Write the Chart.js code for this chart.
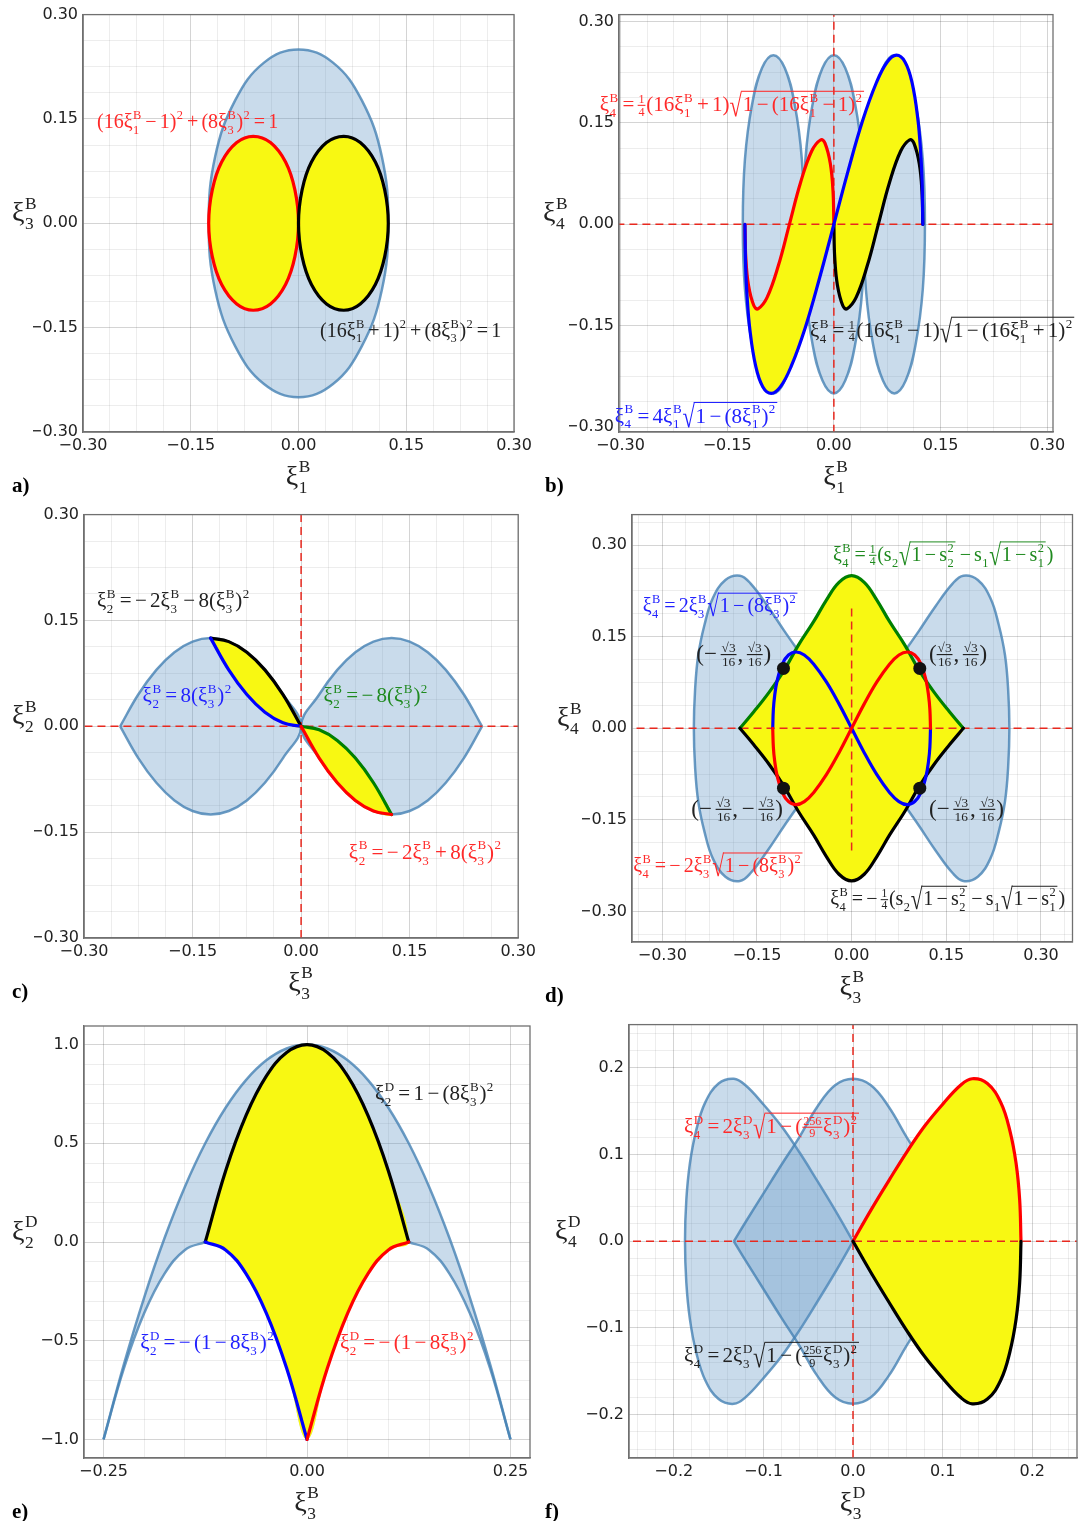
<!DOCTYPE html>
<html>
<head>
<meta charset="utf-8">
<script src="https://cdn.jsdelivr.net/npm/chart.js@4.4.1/dist/chart.umd.min.js"></script>
<style>
  html, body { margin: 0; padding: 0; background: #fff; }
  body { width: 1079px; height: 1521px; position: relative; overflow: hidden; }
  canvas { position: absolute; }
</style>
</head>
<body>
<script>
/* ---------------- tick labels ---------------- */
const ticksB = [-0.30, -0.15, 0.00, 0.15, 0.30];
const ticksEx = [-0.25, 0.00, 0.25];
const ticksEy = [-1.0, -0.5, 0.0, 0.5, 1.0];
const ticksF = [-0.2, -0.1, 0.0, 0.1, 0.2];

/* ---------------- a) xi1 vs xi3 ---------------- */
const aCloudX = [0, -0.048, -0.088, -0.116, -0.125, -0.116, -0.088, -0.048, 0, 0.048, 0.088, 0.116, 0.125, 0.116, 0.088, 0.048];
const aCloudY = [0.25, 0.231, 0.177, 0.096, 0, -0.096, -0.177, -0.231, -0.25, -0.231, -0.177, -0.096, 0, 0.096, 0.177, 0.231];
const aRedX = [-0.063, -0.086, -0.107, -0.120, -0.125, -0.120, -0.107, -0.086, -0.063, -0.039, -0.018, -0.005, 0, -0.005, -0.018, -0.039];
const aRedY = [0.125, 0.116, 0.088, 0.048, 0, -0.048, -0.088, -0.116, -0.125, -0.116, -0.088, -0.048, 0, 0.048, 0.088, 0.116];
const aBlackX = [0.063, 0.039, 0.018, 0.005, 0, 0.005, 0.018, 0.039, 0.063, 0.086, 0.107, 0.120, 0.125, 0.120, 0.107, 0.086];
const aBlackY = [0.125, 0.116, 0.088, 0.048, 0, -0.048, -0.088, -0.116, -0.125, -0.116, -0.088, -0.048, 0, 0.048, 0.088, 0.116];

/* ---------------- b) xi1 vs xi4 ---------------- */
const bLobeCx = [-0.085, 0, 0.085];
const bLobeDx = [0, -0.016, -0.030, -0.040, -0.043, -0.040, -0.030, -0.016, 0, 0.016, 0.030, 0.040, 0.043, 0.040, 0.030, 0.016];
const bLobeY = [0.25, 0.231, 0.177, 0.096, 0, -0.096, -0.177, -0.231, -0.25, -0.231, -0.177, -0.096, 0, 0.096, 0.177, 0.231];
const bBlueX = [-0.125, -0.124, -0.122, -0.118, -0.11, -0.1, -0.088, -0.075, -0.06, -0.04, -0.02, 0, 0.02, 0.04, 0.06, 0.075, 0.088, 0.1, 0.11, 0.118, 0.122, 0.124, 0.125];
const bBlueY = [0, -0.063, -0.106, -0.156, -0.209, -0.24, -0.25, -0.24, -0.21, -0.152, -0.079, 0, 0.079, 0.152, 0.21, 0.24, 0.25, 0.24, 0.209, 0.156, 0.106, 0.063, 0];
const bRedX = [-0.125, -0.1238, -0.12, -0.1125, -0.1067, -0.0938, -0.078, -0.0625, -0.047, -0.0313, -0.0183, -0.0125, -0.005, -0.0012, 0];
const bRedY = [0, -0.049, -0.09, -0.12, -0.125, -0.108, -0.061, 0, 0.061, 0.108, 0.125, 0.12, 0.09, 0.049, 0];
const bBlackX = [0, 0.0012, 0.005, 0.0125, 0.0183, 0.0313, 0.047, 0.0625, 0.078, 0.0938, 0.1067, 0.1125, 0.12, 0.1238, 0.125];
const bBlackY = [0, -0.049, -0.09, -0.12, -0.125, -0.108, -0.061, 0, 0.061, 0.108, 0.125, 0.12, 0.09, 0.049, 0];

/* ---------------- c) xi3 vs xi2 ---------------- */
const cLobeX = [-0.25, -0.225, -0.2, -0.175, -0.15, -0.125, -0.1, -0.075, -0.05, -0.025, 0];
const cLobeTop = [0, 0.045, 0.08, 0.105, 0.12, 0.125, 0.12, 0.105, 0.08, 0.045, 0];
const cLeftX = [-0.125, -0.1, -0.075, -0.05, -0.025, 0];
const cBlueY = [0.125, 0.08, 0.045, 0.02, 0.005, 0];
const cBlackY = [0.125, 0.12, 0.105, 0.08, 0.045, 0];
const cRightX = [0, 0.025, 0.05, 0.075, 0.1, 0.125];
const cGreenY = [0, -0.005, -0.02, -0.045, -0.08, -0.125];
const cRedY = [0, -0.045, -0.08, -0.105, -0.12, -0.125];

/* ---------------- d) xi3 vs xi4 ---------------- */
const dLobeX = [0, -0.027, -0.053, -0.08, -0.107, -0.133, -0.16, -0.177, -0.2, -0.22, -0.233, -0.243, -0.248, -0.25];
const dLobeY = [0, 0.04, 0.08, 0.12, 0.16, 0.2, 0.237, 0.25, 0.243, 0.213, 0.17, 0.12, 0.064, 0];
const dGreenX = [-0.177, -0.155, -0.13, -0.107, -0.085, -0.06, -0.04, -0.02, 0, 0.02, 0.04, 0.06, 0.085, 0.107, 0.13, 0.155, 0.177];
const dGreenY = [0, 0.027, 0.06, 0.095, 0.135, 0.175, 0.21, 0.239, 0.25, 0.239, 0.21, 0.175, 0.135, 0.095, 0.06, 0.027, 0];
const dBlueX = [-0.125, -0.124, -0.122, -0.118, -0.11, -0.1, -0.088, -0.075, -0.06, -0.04, -0.02, 0, 0.02, 0.04, 0.06, 0.075, 0.088, 0.1, 0.11, 0.118, 0.122, 0.124, 0.125];
const dBlueY = [0, 0.031, 0.053, 0.078, 0.105, 0.12, 0.125, 0.12, 0.105, 0.076, 0.04, 0, -0.04, -0.076, -0.105, -0.12, -0.125, -0.12, -0.105, -0.078, -0.053, -0.031, 0];
const dDotX = [-0.108, 0.108, -0.108, 0.108];
const dDotY = [0.098, 0.098, -0.098, -0.098];
const dVertDash = [-0.2, 0.2];

/* ---------------- e) xi3B vs xi2D ---------------- */
const eOuterX = [-0.25, -0.225, -0.2, -0.175, -0.15, -0.125, -0.1, -0.075, -0.05, -0.025, 0, 0.025, 0.05, 0.075, 0.1, 0.125, 0.15, 0.175, 0.2, 0.225, 0.25];
const eOuterY = [-1, -0.62, -0.28, 0.02, 0.28, 0.5, 0.68, 0.82, 0.92, 0.98, 1, 0.98, 0.92, 0.82, 0.68, 0.5, 0.28, 0.02, -0.28, -0.62, -1];
const eLowerX = [-0.25, -0.225, -0.2, -0.175, -0.15, -0.125];
const eLowerY = [-1, -0.64, -0.36, -0.16, -0.04, 0];
const eBlueX = [-0.125, -0.1, -0.075, -0.05, -0.025, 0];
const eBlueY = [0, -0.04, -0.16, -0.36, -0.64, -1];
const eRedX = [0, 0.025, 0.05, 0.075, 0.1, 0.125];
const eRedY = [-1, -0.64, -0.36, -0.16, -0.04, 0];
const eBlackX = [-0.125, -0.1, -0.075, -0.05, -0.025, 0, 0.025, 0.05, 0.075, 0.1, 0.125];
const eBlackY = [0, 0.36, 0.64, 0.84, 0.96, 1, 0.96, 0.84, 0.64, 0.36, 0];

/* ---------------- f) xi3D vs xi4D ---------------- */
const fRedX = [0, 0.02, 0.04, 0.06, 0.08, 0.1, 0.12, 0.133, 0.15, 0.165, 0.175, 0.182, 0.186, 0.1875];
const fRedY = [0, 0.036, 0.07, 0.103, 0.133, 0.158, 0.18, 0.1875, 0.182, 0.16, 0.128, 0.09, 0.048, 0];
const fMidX = [-0.133, -0.12, -0.1, -0.08, -0.06, -0.04, -0.02, 0, 0.02, 0.04, 0.06, 0.08, 0.1, 0.12, 0.133];
const fMidY = [0, 0.022, 0.055, 0.088, 0.12, 0.155, 0.18, 0.1875, 0.18, 0.155, 0.12, 0.088, 0.055, 0.022, 0];

/* ---------------- styling ---------------- */
const RED = '#ff0000', BLUE = '#0000ff', GREEN = '#008000', BLACK = '#000000';
const T_RED = '#ff2a2a', T_BLUE = '#2222ff', T_GREEN = '#1f8a1f', T_BLACK = '#222222';
const CLOUD_FILL = 'rgba(90,145,195,0.33)', CLOUD_EDGE = 'rgba(70,130,180,0.8)';
const YELLOW = 'rgb(248,248,18)';
const SPINE = '#707070', MAJOR = 'rgba(0,0,0,0.17)', MINOR = 'rgba(0,0,0,0.07)';
const SERIF = '"Liberation Serif", "DejaVu Serif", serif';

/* ---------------- helpers ---------------- */
const P = (xs, ys) => xs.map((x, i) => ({ x, y: ys[i] }));
const neg = pts => pts.map(p => ({ x: p.x, y: -p.y }));
const flipX = pts => pts.map(p => ({ x: -p.x, y: p.y }));
const closeLoop = upper => [...upper, ...neg(upper).reverse().slice(1)];
const rev = pts => pts.slice().reverse().slice(1);

const cloud = (data, extra = {}) => ({ data, fill: 'shape', backgroundColor: CLOUD_FILL, borderColor: CLOUD_EDGE, borderWidth: 2.5, tension: 0.4, ...extra });
const edge = data => ({ data, fill: false, borderColor: CLOUD_EDGE, borderWidth: 2.5, tension: 0.4 });
const patch = (data, extra = {}) => ({ data, fill: 'shape', backgroundColor: YELLOW, borderColor: 'rgba(0,0,0,0)', borderWidth: 0, tension: 0.4, ...extra });
const curve = (data, color, extra = {}) => ({ data, fill: false, borderColor: color, borderWidth: 3.2, borderCapStyle: 'round', tension: 0.4, ...extra });
const dash = data => ({ data, fill: false, borderColor: '#e8281e', borderWidth: 1.5, borderDash: [8, 5], tension: 0 });
const hLine = [{ x: -1, y: 0 }, { x: 1, y: 0 }];
const vLine = [{ x: 0, y: -1 }, { x: 0, y: 1 }];
const RING = { closed: true };

// closed outlines (ellipses) are drawn as smooth loops, like a radar line
Chart.register({
  id: 'closedLoops',
  afterDatasetUpdate(chart, args) {
    const ds = chart.data.datasets[args.index];
    if (ds && ds.closed && args.meta.dataset) {
      args.meta.dataset._loop = true;
      args.meta.dataset._fullLoop = true;
    }
  }
});

// radical sign sized to span from below the baseline up to the overline
function radical(ctx, x, y, size, draw) {
  ctx.font = `100px ${SERIF}`;
  const m = ctx.measureText('\u221A');
  const asc = m.actualBoundingBoxAscent, desc = m.actualBoundingBoxDescent;
  const fs = 100 * (1.2 * size) / (asc + desc);
  const k = fs / 100, sx = 0.72;
  const base = y - 0.98 * size + asc * k;
  const right = m.actualBoundingBoxRight * k * sx;
  if (draw) {
    ctx.save(); ctx.translate(x, base); ctx.scale(sx, 1);
    ctx.font = `${fs}px ${SERIF}`; ctx.fillText('\u221A', 0, 0); ctx.restore();
  }
  return right;
}

// tiny typesetter: _ sub, ^ sup, \r{} root, \f{}{} fraction
function mathRun(ctx, s, x, y, size, draw) {
  let i = 0, cx = x;
  const arg = () => {
    if (s[i] !== '{') return s[i++];
    let depth = 1, j = i + 1;
    while (depth > 0 && j < s.length) { if (s[j] === '{') depth++; else if (s[j] === '}') depth--; j++; }
    const a = s.slice(i + 1, j - 1); i = j; return a;
  };
  while (i < s.length) {
    const ch = s[i];
    if (ch === '\\') {
      const cmd = s[i + 1]; i += 2;
      if (cmd === 'r') {
        const body = arg();
        const rw = radical(ctx, cx, y, size, draw);
        const bw = mathRun(ctx, body, cx + rw + size * 0.04, y, size, draw);
        if (draw) ctx.fillRect(cx + rw - 1, y - 0.98 * size, bw + size * 0.14, Math.max(1, size * 0.05));
        cx += rw + bw + size * 0.14;
      } else if (cmd === 'f') {
        const a = arg(), b = arg();
        const fs = size * 0.58;
        const wa = mathRun(ctx, a, 0, 0, fs, false), wb = mathRun(ctx, b, 0, 0, fs, false);
        const w = Math.max(wa, wb) + size * 0.08;
        if (draw) {
          mathRun(ctx, a, cx + (w - wa) / 2, y - size * 0.4, fs, true);
          mathRun(ctx, b, cx + (w - wb) / 2, y + size * 0.2, fs, true);
          ctx.fillRect(cx, y - size * 0.31, w, Math.max(1, size * 0.05));
        }
        cx += w + size * 0.04;
      }
    } else if (ch === '_' || ch === '^') {
      let sub = null, sup = null;
      while (i < s.length && (s[i] === '_' || s[i] === '^')) {
        const t = s[i++]; const a = arg();
        if (t === '_') sub = a; else sup = a;
      }
      const ss = size * 0.62; let w = 0;
      if (sub !== null) w = Math.max(w, mathRun(ctx, sub, cx + size * 0.02, y + size * 0.28, ss, draw));
      if (sup !== null) w = Math.max(w, mathRun(ctx, sup, cx + size * 0.02, y - size * 0.45, ss, draw));
      cx += w + size * 0.06;
    } else if (ch === ' ') {
      cx += size * 0.16; i++;
    } else {
      ctx.font = `${size}px ${SERIF}`;
      if (draw) ctx.fillText(ch, cx, y);
      cx += ctx.measureText(ch).width; i++;
    }
  }
  return cx - x;
}

function gridValues(min, max, step) {
  const out = [];
  for (let k = Math.ceil(min / step - 1e-6); k * step <= max + 1e-9; k++) out.push(Math.round(k * step * 1e6) / 1e6);
  return out;
}

function axis(spec, isX) {
  const grid = gridValues(spec.min, spec.max, spec.step);
  const find = v => spec.labels.find(l => Math.abs(l - v) < spec.step / 10);
  return {
    type: 'linear', min: spec.min, max: spec.max,
    afterBuildTicks: s => { s.ticks = grid.map(v => ({ value: v })); },
    afterFit: s => { if (isX) s.height = 26; else s.width = 50; },
    grid: { color: c => (c.tick && find(c.tick.value) !== undefined ? MAJOR : MINOR), lineWidth: 1, drawTicks: false },
    border: { display: true, color: SPINE, width: 1.3 },
    ticks: {
      autoSkip: false, maxRotation: 0, padding: isX ? 4 : 5, color: '#222',
      font: { size: 16, family: '"DejaVu Sans", sans-serif' },
      callback: v => {
        const l = find(v);
        if (l === undefined) return '';
        return (l < 0 ? '\u2212' : '') + Math.abs(l).toFixed(spec.dec);
      }
    }
  };
}

/* ---------------- panels ---------------- */
const panels = [
  {
    box: [0, 0, 540, 500], area: [83, 12, 514, 432],
    x: { min: -0.3, max: 0.3, step: 0.0375, labels: ticksB, dec: 2 },
    y: { min: -0.3, max: 0.3, step: 0.0375, labels: ticksB, dec: 2 },
    xTitle: 'ξ_1^B', yTitle: 'ξ_3^B', yTitleX: 12, tag: 'a)', tagX: 12,
    sets: [
      cloud(P(aCloudX, aCloudY), RING),
      patch(P(aRedX, aRedY), RING), patch(P(aBlackX, aBlackY), RING),
      curve(P(aRedX, aRedY), RED, RING), curve(P(aBlackX, aBlackY), BLACK, RING)
    ],
    notes: [
      { t: '(16ξ_1^B − 1)^2 + (8ξ_3^B)^2 = 1', x: -0.2805, y: 0.137, c: T_RED, s: 20 },
      { t: '(16ξ_1^B + 1)^2 + (8ξ_3^B)^2 = 1', x: 0.03, y: -0.163, c: T_BLACK, s: 20 }
    ]
  },
  {
    box: [540, 0, 539, 500], area: [619, 5, 1053, 432],
    x: { min: -0.302, max: 0.308, step: 0.0375, labels: ticksB, dec: 2 },
    y: { min: -0.307, max: 0.31, step: 0.0375, labels: ticksB, dec: 2 },
    xTitle: 'ξ_1^B', yTitle: 'ξ_4^B', yTitleX: 543, tag: 'b)', tagX: 545,
    sets: [
      ...bLobeCx.map(cx => cloud(P(bLobeDx.map(d => cx + d), bLobeY), RING)),
      patch([...P(bRedX, bRedY), ...rev(P(bBlueX.slice(0, 12), bBlueY.slice(0, 12)))]),
      patch([...P(bBlackX, bBlackY), ...rev(P(bBlueX.slice(11), bBlueY.slice(11)))]),
      dash(hLine), dash(vLine),
      curve(P(bRedX, bRedY), RED), curve(P(bBlackX, bBlackY), BLACK), curve(P(bBlueX, bBlueY), BLUE)
    ],
    notes: [
      { t: 'ξ_4^B = \\f{1}{4}(16ξ_1^B + 1)\\r{1 − (16ξ_1^B − 1)^2}', x: -0.329, y: 0.167, c: T_RED, s: 21 },
      { t: 'ξ_4^B = \\f{1}{4}(16ξ_1^B − 1)\\r{1 − (16ξ_1^B + 1)^2}', x: -0.0336, y: -0.167, c: T_BLACK, s: 21 },
      { t: 'ξ_4^B = 4ξ_1^B\\r{1 − (8ξ_1^B)^2}', x: -0.308, y: -0.293, c: T_BLUE, s: 21 }
    ]
  },
  {
    box: [0, 500, 540, 510], area: [84, 511, 523, 938],
    x: { min: -0.3, max: 0.3, step: 0.0375, labels: ticksB, dec: 2 },
    y: { min: -0.3, max: 0.3, step: 0.0375, labels: ticksB, dec: 2 },
    xTitle: 'ξ_3^B', yTitle: 'ξ_2^B', yTitleX: 12, tag: 'c)', tagX: 12,
    sets: [
      cloud(closeLoop(P(cLobeX, cLobeTop))),
      cloud(flipX(closeLoop(P(cLobeX, cLobeTop)))),
      patch([...P(cLeftX, cBlackY), ...rev(P(cLeftX, cBlueY))]),
      patch([...P(cRightX, cGreenY), ...rev(P(cRightX, cRedY))]),
      dash(hLine), dash(vLine),
      curve(P(cLeftX, cBlackY), BLACK), curve(P(cLeftX, cBlueY), BLUE),
      curve(P(cRightX, cGreenY), GREEN), curve(P(cRightX, cRedY), RED)
    ],
    notes: [
      { t: 'ξ_2^B = − 2ξ_3^B − 8(ξ_3^B)^2', x: -0.282, y: 0.169, c: T_BLACK, s: 21 },
      { t: 'ξ_2^B = 8(ξ_3^B)^2', x: -0.219, y: 0.034, c: T_BLUE, s: 21 },
      { t: 'ξ_2^B = − 8(ξ_3^B)^2', x: 0.031, y: 0.034, c: T_GREEN, s: 21 },
      { t: 'ξ_2^B = − 2ξ_3^B + 8(ξ_3^B)^2', x: 0.066, y: -0.1876, c: T_RED, s: 21 }
    ]
  },
  {
    box: [540, 500, 539, 510], area: [632, 508, 1077, 942],
    x: { min: -0.348, max: 0.35, step: 0.0375, labels: ticksB, dec: 2 },
    y: { min: -0.35, max: 0.35, step: 0.0375, labels: ticksB, dec: 2 },
    xTitle: 'ξ_3^B', yTitle: 'ξ_4^B', yTitleX: 557, tag: 'd)', tagX: 545,
    sets: [
      cloud(closeLoop(P(dLobeX, dLobeY))),
      cloud(flipX(closeLoop(P(dLobeX, dLobeY)))),
      patch(closeLoop(P(dGreenX, dGreenY))),
      dash(hLine), dash([{ x: 0, y: dVertDash[0] }, { x: 0, y: dVertDash[1] }]),
      curve(P(dGreenX, dGreenY), GREEN), curve(neg(P(dGreenX, dGreenY)), BLACK),
      curve(P(dBlueX, dBlueY), BLUE), curve(neg(P(dBlueX, dBlueY)), RED),
      { data: P(dDotX, dDotY), showLine: false, pointRadius: 6.5, pointBackgroundColor: '#111', pointBorderWidth: 0 }
    ],
    notes: [
      { t: 'ξ_4^B = \\f{1}{4}(s_2\\r{1 − s_2^2} − s_1\\r{1 − s_1^2})', x: -0.0296, y: 0.274, c: T_GREEN, s: 20 },
      { t: 'ξ_4^B = 2ξ_3^B\\r{1 − (8ξ_3^B)^2}', x: -0.331, y: 0.19, c: T_BLUE, s: 20 },
      { t: '(− \\f{√3}{16}, \\f{√3}{16})', x: -0.246, y: 0.11, c: T_BLACK, s: 23 },
      { t: '(\\f{√3}{16}, \\f{√3}{16})', x: 0.1226, y: 0.11, c: T_BLACK, s: 23 },
      { t: '(− \\f{√3}{16}, − \\f{√3}{16})', x: -0.254, y: -0.1435, c: T_BLACK, s: 23 },
      { t: '(− \\f{√3}{16}, \\f{√3}{16})', x: 0.1226, y: -0.1435, c: T_BLACK, s: 23 },
      { t: 'ξ_4^B = − 2ξ_3^B\\r{1 − (8ξ_3^B)^2}', x: -0.346, y: -0.2355, c: T_RED, s: 20 },
      { t: 'ξ_4^B = − \\f{1}{4}(s_2\\r{1 − s_2^2} − s_1\\r{1 − s_1^2})', x: -0.034, y: -0.29, c: T_BLACK, s: 20 }
    ]
  },
  {
    box: [0, 1010, 540, 511], area: [84, 1026, 530, 1458],
    x: { min: -0.274, max: 0.274, step: 0.05, labels: ticksEx, dec: 2 },
    y: { min: -1.094, max: 1.094, step: 0.1, labels: ticksEy, dec: 1 },
    xTitle: 'ξ_3^B', yTitle: 'ξ_2^D', yTitleX: 12, tag: 'e)', tagX: 12,
    sets: [
      // band: outer parabola, then the lower parabola through the cusp (middle is under the yellow)
      cloud([...P(eOuterX, eOuterY), ...flipX(P(eLowerX, eLowerY)).slice(1),
             ...rev(P(eRedX, eRedY)), ...rev(P(eBlueX, eBlueY)), ...rev(P(eLowerX, eLowerY))],
            { borderWidth: 0, borderColor: 'rgba(0,0,0,0)' }),
      edge(P(eOuterX, eOuterY)), edge(P(eLowerX, eLowerY)), edge(flipX(P(eLowerX, eLowerY))),
      patch([...P(eBlackX, eBlackY), ...rev(P(eRedX, eRedY)), ...rev(P(eBlueX, eBlueY))]),
      curve(P(eBlackX, eBlackY), BLACK), curve(P(eBlueX, eBlueY), BLUE), curve(P(eRedX, eRedY), RED)
    ],
    notes: [
      { t: 'ξ_2^D = 1 − (8ξ_3^B)^2', x: 0.0835, y: 0.719, c: T_BLACK, s: 21 },
      { t: 'ξ_2^D = − (1 − 8ξ_3^B)^2', x: -0.205, y: -0.542, c: T_BLUE, s: 21 },
      { t: 'ξ_2^D = − (1 − 8ξ_3^B)^2', x: 0.0405, y: -0.542, c: T_RED, s: 21 }
    ]
  },
  {
    box: [540, 1010, 539, 511], area: [629, 1023, 1077, 1458],
    x: { min: -0.25, max: 0.25, step: 0.02, labels: ticksF, dec: 1 },
    y: { min: -0.25, max: 0.25, step: 0.02, labels: ticksF, dec: 1 },
    xTitle: 'ξ_3^D', yTitle: 'ξ_4^D', yTitleX: 555, tag: 'f)', tagX: 545,
    sets: [
      cloud(flipX(closeLoop(P(fRedX, fRedY)))),
      cloud(closeLoop(P(fMidX, fMidY))),
      patch(closeLoop(P(fRedX, fRedY))),
      dash(hLine), dash(vLine),
      curve(P(fRedX, fRedY), RED), curve(neg(P(fRedX, fRedY)), BLACK)
    ],
    notes: [
      { t: 'ξ_4^D = 2ξ_3^D\\r{1 − (\\f{256}{9}ξ_3^D)^2}', x: -0.1886, y: 0.1247, c: T_RED, s: 21 },
      { t: 'ξ_4^D = 2ξ_3^D\\r{1 − (\\f{256}{9}ξ_3^D)^2}', x: -0.1886, y: -0.1397, c: T_BLACK, s: 21 }
    ]
  }
];

function decor(panel) {
  return {
    id: 'decor',
    afterDraw(chart) {
      const ctx = chart.ctx, a = chart.chartArea;
      const [bx] = panel.box;
      ctx.save();
      ctx.strokeStyle = SPINE; ctx.lineWidth = 1.3;
      ctx.strokeRect(a.left, a.top, a.right - a.left, a.bottom - a.top);
      ctx.textBaseline = 'alphabetic';
      for (const n of panel.notes) {
        ctx.fillStyle = n.c;
        mathRun(ctx, n.t, chart.scales.x.getPixelForValue(n.x), chart.scales.y.getPixelForValue(n.y), n.s, true);
      }
      ctx.fillStyle = '#222';
      const xw = mathRun(ctx, panel.xTitle, 0, 0, 28, false);
      mathRun(ctx, panel.xTitle, (a.left + a.right) / 2 - xw / 2, a.bottom + 53, 28, true);
      mathRun(ctx, panel.yTitle, panel.yTitleX - bx, (a.top + a.bottom) / 2 - 2, 28, true);
      ctx.font = `bold 21px ${SERIF}`;
      ctx.fillStyle = '#000';
      ctx.fillText(panel.tag, panel.tagX - bx, a.bottom + 60);
      ctx.restore();
    }
  };
}

Chart.defaults.animation = false;
Chart.defaults.elements.point.radius = 0;

for (const p of panels) {
  const [bx, by, bw, bh] = p.box;
  const [l, t, r, b] = p.area;
  const cv = document.createElement('canvas');
  cv.width = bw; cv.height = bh;
  cv.style.left = bx + 'px'; cv.style.top = by + 'px';
  cv.style.width = bw + 'px'; cv.style.height = bh + 'px';
  document.body.appendChild(cv);
  const datasets = p.sets.slice().reverse(); // first listed = drawn at the bottom
  new Chart(cv, {
    type: 'line',
    data: { datasets },
    options: {
      responsive: false,
      events: [],
      layout: { padding: { left: l - bx - 50, right: bx + bw - r, top: t - by, bottom: by + bh - b - 26 } },
      plugins: { legend: { display: false }, tooltip: { enabled: false } },
      scales: { x: axis(p.x, true), y: axis(p.y, false) }
    },
    plugins: [decor(p)]
  });
}
</script>
</body>
</html>
